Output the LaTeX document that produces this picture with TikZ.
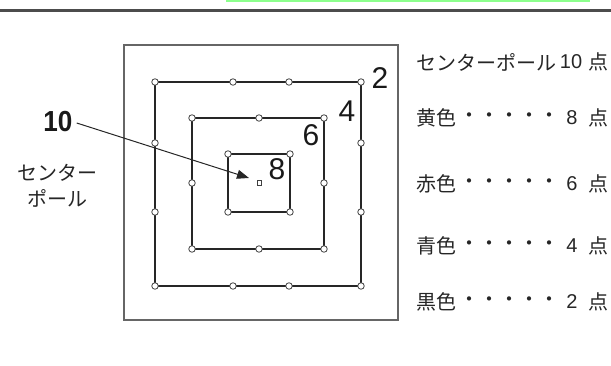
\documentclass[tikz,border=0pt]{standalone}
\usepackage{fontspec}
\setmainfont{Liberation Sans}
\newfontfamily\jp{Noto Sans CJK JP}
\usetikzlibrary{arrows.meta}
\tikzset{
  sq/.style={draw=black!85, line width=1.8pt},
  pt/.style={circle, draw=black!75, fill=white, line width=0.8pt, inner sep=0pt, minimum size=6.5pt},
  ctr/.style={rectangle, draw=black!75, fill=white, line width=0.8pt, inner sep=0pt, minimum width=4pt, minimum height=5pt},
  num/.style={font=\fontsize{30}{30}\selectfont, text=black!90, inner sep=0pt},
  jtxt/.style={font=\jp\fontsize{20}{26}\selectfont, text=black!85, inner sep=0pt},
  dig/.style={font=\fontsize{20}{20}\selectfont, text=black!85, inner sep=0pt},
}
\begin{document}
\begin{tikzpicture}[x=1pt,y=-1pt]
\useasboundingbox (0,0) rectangle (611,366);
% top rule and green strip
\draw[draw=green!45!white, line width=2pt] (226,1) -- (590,1);
\draw[draw=black!70, line width=3pt] (0,11) -- (611,11);
% outer frame
\draw[draw=black!60, line width=1.4pt] (124,45) rectangle (398,320);
% squares
\draw[sq] (155,82) rectangle (361,286);
\draw[sq] (192,118) rectangle (324,249);
\draw[sq] (228,154) rectangle (290,212);
% dots on outer square (2)
\foreach \x in {155,233,289,361} {
  \node[pt] at (\x,82) {};
  \node[pt] at (\x,286) {};
}
\foreach \y in {143,212} {
  \node[pt] at (155,\y) {};
  \node[pt] at (361,\y) {};
}
% dots on middle square (6)
\foreach \x in {192,324} {
  \node[pt] at (\x,118) {};
  \node[pt] at (\x,183) {};
  \node[pt] at (\x,249) {};
}
\node[pt] at (259,118) {};
\node[pt] at (259,249) {};
% dots on inner square (8)
\foreach \x in {228,290} {
  \node[pt] at (\x,154) {};
  \node[pt] at (\x,212) {};
}
% centre pole
\node[ctr] (pole) at (259,183) {};
% numbers
\node[num] (n2) at (380,78) {2};
\node[num] (n4) at (347,111) {4};
\node[num] (n6) at (311,135) {6};
\node[num] (n8) at (277,169) {8};
\node[num, font=\bfseries\fontsize{29}{29}\selectfont, xscale=0.9] (ten) at (58,122) {10};
\coordinate (tip) at (249,178);
\draw[black!85, line width=1pt, -{Triangle[length=12pt,width=9pt]}] ([xshift=4pt,yshift=-1pt]ten.east) -- (tip);
% left label
\node[jtxt, align=center] (cp) at (57,186) {センター\\ポール};
% legend
\node[jtxt, anchor=west] (l1) at (416,62) {センターポール};
\node[dig] (l1n) at (571,62) {10};
\node[jtxt] (l1p) at (598,62) {点};
\foreach \yy/\c/\n in {118/黄色/8, 184/赤色/6, 246/青色/4, 302/黒色/2} {
  \node[jtxt, anchor=west] at (416,\yy) {\c};
  \node[jtxt] at (509,\yy) {・・・・・};
  \node[dig] at (572,\yy) {\n};
  \node[jtxt] at (598,\yy) {点};
}
\end{tikzpicture}
\end{document}
